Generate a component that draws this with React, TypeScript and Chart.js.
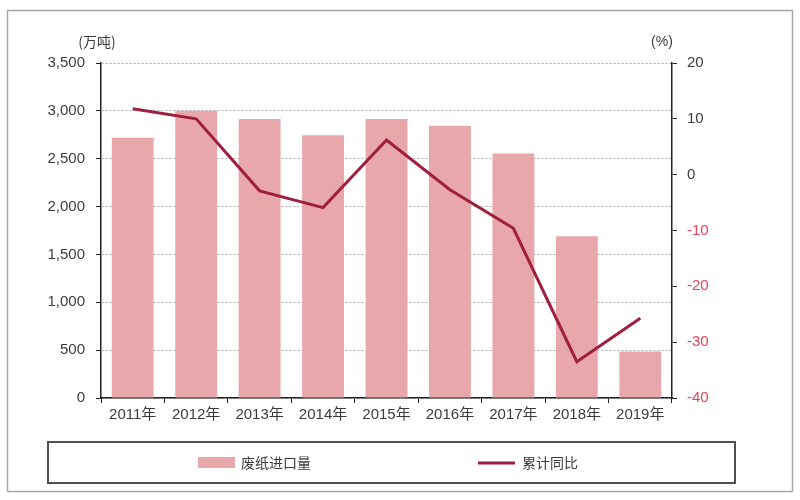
import React, { useEffect, useRef } from 'react';
import { Chart, registerables } from 'chart.js';

Chart.register(...registerables);

const categories = ['2011年', '2012年', '2013年', '2014年', '2015年', '2016年', '2017年', '2018年', '2019年'];
const importVolume = [2720, 3000, 2915, 2745, 2915, 2845, 2555, 1690, 485];
const yoyGrowth = [11.8, 10.0, -2.9, -5.9, 6.2, -2.7, -9.6, -33.5, -25.7];
const seriesNames = ['废纸进口量', '累计同比'];
const leftUnit = '(万吨)';
const rightUnit = '(%)';

const FONT = '"Liberation Sans", "Noto Sans CJK SC", sans-serif';
const CJK = '"Noto Sans CJK SC", sans-serif';
const TEXT = '#3c3c3c';
const BAR = '#e8a7aa';
const LINE = '#a01f3e';

const decorPlugin = {
  id: 'decor',
  afterDraw(chart: any) {
    const { ctx, chartArea } = chart;
    ctx.save();
    // outer frame
    ctx.strokeStyle = '#a8a8a8';
    ctx.lineWidth = 1.5;
    ctx.strokeRect(7.5, 10.5, 785, 481);
    // unit labels
    ctx.fillStyle = TEXT;
    ctx.font = `14px ${CJK}`;
    ctx.textAlign = 'center';
    ctx.textBaseline = 'middle';
    ctx.fillText(leftUnit, chartArea.left - 4, 42);
    ctx.font = `14px ${FONT}`;
    ctx.fillText(rightUnit, chartArea.right - 10, 42);
    // legend box
    ctx.strokeStyle = '#505050';
    ctx.lineWidth = 2;
    ctx.strokeRect(48, 442, 687, 41);
    const ds = chart.data.datasets;
    const cy = 463;
    // bar item
    ctx.fillStyle = ds[1].backgroundColor;
    ctx.fillRect(198, cy - 6, 37, 11);
    ctx.fillStyle = TEXT;
    ctx.font = `14px ${CJK}`;
    ctx.textAlign = 'left';
    ctx.fillText(ds[1].label, 241, cy);
    // line item
    ctx.strokeStyle = ds[0].borderColor;
    ctx.lineWidth = 3;
    ctx.beginPath();
    ctx.moveTo(478, cy);
    ctx.lineTo(515, cy);
    ctx.stroke();
    ctx.fillText(ds[0].label, 522, cy);
    ctx.restore();
  },
};

export default function App() {
  const ref = useRef<HTMLCanvasElement>(null);

  useEffect(() => {
    if (!ref.current) return;
    const chart = new Chart(ref.current, {
      type: 'bar',
      data: {
        labels: categories,
        datasets: [
          {
            type: 'line',
            label: seriesNames[1],
            data: yoyGrowth,
            yAxisID: 'y1',
            borderColor: LINE,
            backgroundColor: LINE,
            borderWidth: 3,
            pointRadius: 0,
            tension: 0,
            order: 0,
          } as any,
          {
            type: 'bar',
            label: seriesNames[0],
            data: importVolume,
            yAxisID: 'y',
            backgroundColor: BAR,
            categoryPercentage: 1,
            barPercentage: 0.66,
            order: 1,
          },
        ],
      },
      options: {
        responsive: false,
        animation: false,
        layout: { padding: { top: 63, bottom: 72, left: 0, right: 0 } },
        plugins: {
          legend: { display: false },
          tooltip: { enabled: false },
        },
        scales: {
          x: {
            afterFit: (s: any) => { s.height = 30; },
            grid: {
              drawOnChartArea: false,
              drawTicks: true,
              tickLength: 5,
              tickColor: '#222',
              offset: true,
            },
            border: { color: '#222', width: 1.5 },
            ticks: { color: TEXT, font: { family: FONT, size: 15 }, padding: 3, maxRotation: 0 },
          },
          y: {
            position: 'left',
            min: 0,
            max: 3500,
            afterFit: (s: any) => { s.width = 101; },
            grid: {
              color: '#ababab',
              tickLength: 5,
              tickColor: '#222',
              tickBorderDash: [],
            } as any,
            border: { color: '#222', width: 1.5, dash: [2, 2] },
            ticks: {
              stepSize: 500,
              color: TEXT,
              font: { family: FONT, size: 15 },
              padding: 11,
              callback: (v: any) => Number(v).toLocaleString('en-US'),
            },
          },
          y1: {
            position: 'right',
            min: -40,
            max: 20,
            afterFit: (s: any) => { s.width = 128; },
            grid: {
              drawOnChartArea: false,
              tickLength: 5,
              tickColor: '#222',
            },
            border: { color: '#222', width: 1.5 },
            ticks: {
              stepSize: 10,
              color: (c: any) => (c.tick && c.tick.value < 0 ? '#e8435a' : TEXT),
              font: { family: FONT, size: 15 },
              padding: 10,
            },
          },
        },
      },
      plugins: [decorPlugin],
    });
    return () => chart.destroy();
  }, []);

  return (
    <div style={{ position: 'absolute', left: 0, top: 0, width: 800, height: 500, background: '#fff' }}>
      <canvas ref={ref} width={800} height={500} style={{ display: 'block' }} />
    </div>
  );
}
